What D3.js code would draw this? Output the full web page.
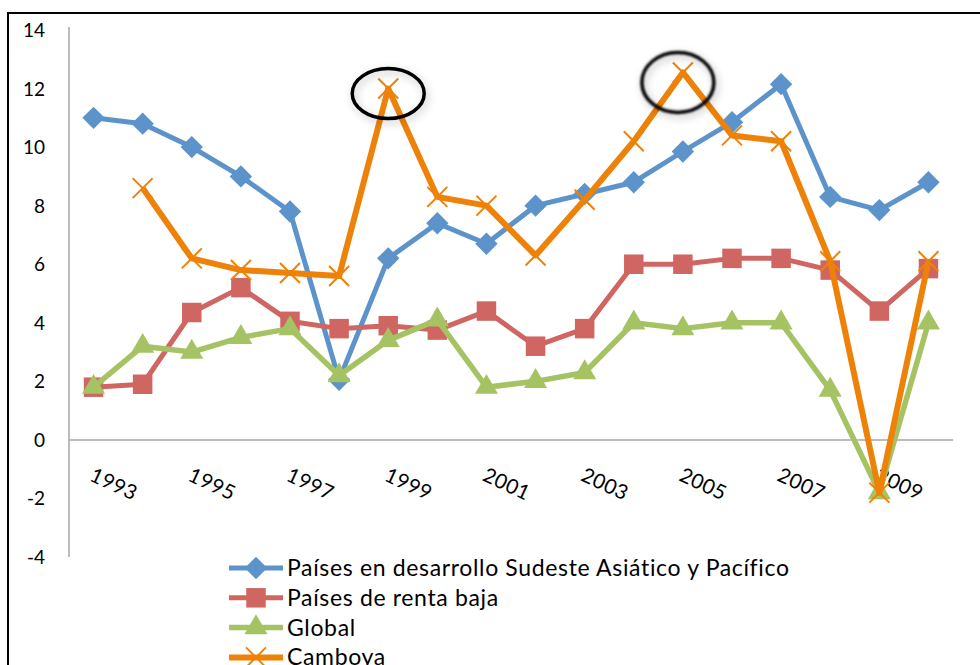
<!DOCTYPE html>
<html>
<head>
<meta charset="utf-8">
<script src="https://cdn.jsdelivr.net/npm/d3@7"></script>
<style>
  body { margin: 0; background: #fff; }
  svg { display: block; font-family: Lato, "Open Sans", sans-serif; }
</style>
</head>
<body>
<svg id="chart"></svg>
<script>
// data
const years = ["1993","1994","1995","1996","1997","1998","1999","2000","2001","2002","2003","2004","2005","2006","2007","2008","2009","2010"];
const tickLabels = ["1993","1995","1997","1999","2001","2003","2005","2007","2009"];
const yTicks = [-4, -2, 0, 2, 4, 6, 8, 10, 12, 14];

const seriesNames = [
  "Países en desarrollo Sudeste Asiático y Pacífico",
  "Países de renta baja",
  "Global",
  "Camboya"
];
const asiaPacifico = [11.0, 10.8, 10.0, 9.0, 7.8, 2.05, 6.2, 7.4, 6.7, 8.0, 8.4, 8.8, 9.85, 10.85, 12.15, 8.3, 7.85, 8.8];
const rentaBaja = [1.8, 1.9, 4.35, 5.2, 4.05, 3.8, 3.9, 3.75, 4.4, 3.2, 3.8, 6.0, 6.0, 6.2, 6.2, 5.8, 4.4, 5.85];
const global = [1.8, 3.2, 3.0, 3.5, 3.8, 2.2, 3.4, 4.1, 1.8, 2.0, 2.3, 4.0, 3.8, 4.0, 4.0, 1.7, -1.8, 4.0];
const camboya = [null, 8.6, 6.2, 5.8, 5.7, 5.6, 12.0, 8.3, 8.0, 6.3, 8.2, 10.2, 12.55, 10.4, 10.2, 6.1, -1.8, 6.1];

// the two circled peaks
const highlights = ["1999", "2005"];

const colors = ["#5B93CA", "#CF6661", "#A6C364", "#EE8208"];
const markers = ["diamond", "square", "triangle", "x"];
const allValues = [asiaPacifico, rentaBaja, global, camboya];

const W = 980, H = 665;
const svg = d3.select("#chart").attr("width", W).attr("height", H);

// outer frame (runs off the right and bottom)
svg.append("rect")
  .attr("x", 8).attr("y", 13)
  .attr("width", 1000).attr("height", 700)
  .attr("fill", "none").attr("stroke", "#000").attr("stroke-width", 2);

const defs = svg.append("defs");
const sh = defs.append("filter").attr("id", "shadow")
  .attr("x", "-40%").attr("y", "-40%").attr("width", "180%").attr("height", "180%");
sh.append("feGaussianBlur").attr("in", "SourceAlpha").attr("stdDeviation", 4).attr("result", "b");
sh.append("feOffset").attr("in", "b").attr("dx", 2).attr("dy", 3).attr("result", "o");
sh.append("feComponentTransfer").attr("in", "o").attr("result", "s")
  .append("feFuncA").attr("type", "linear").attr("slope", 0.25);
const m = sh.append("feMerge");
m.append("feMergeNode").attr("in", "s");
m.append("feMergeNode").attr("in", "SourceGraphic");

const blur = defs.append("filter").attr("id", "soft")
  .attr("x", "-40%").attr("y", "-40%").attr("width", "180%").attr("height", "180%");
blur.append("feGaussianBlur").attr("in", "SourceGraphic").attr("stdDeviation", 1.2).attr("result", "g");
blur.append("feGaussianBlur").attr("in", "SourceAlpha").attr("stdDeviation", 4).attr("result", "b");
blur.append("feOffset").attr("in", "b").attr("dx", 2).attr("dy", 3).attr("result", "o");
blur.append("feComponentTransfer").attr("in", "o").attr("result", "s")
  .append("feFuncA").attr("type", "linear").attr("slope", 0.3);
const m2 = blur.append("feMerge");
m2.append("feMergeNode").attr("in", "s");
m2.append("feMergeNode").attr("in", "g");

const x = d3.scaleBand().domain(years).range([69, 953]);
const y = d3.scaleLinear().domain([-4, 14]).range([557, 30]);
const cx = d => x(d) + x.bandwidth() / 2;

// axes
svg.append("line")
  .attr("x1", 69).attr("x2", 69)
  .attr("y1", y(14) - 3).attr("y2", y(-4))
  .attr("stroke", "#A6A6A6").attr("stroke-width", 1.5);
svg.append("line")
  .attr("x1", 69).attr("x2", 953)
  .attr("y1", y(0)).attr("y2", y(0))
  .attr("stroke", "#A6A6A6").attr("stroke-width", 1.5);

svg.selectAll(".ytick")
  .data(yTicks)
  .enter().append("text")
  .attr("class", "ytick")
  .attr("x", 45)
  .attr("y", d => y(d) + 7)
  .attr("text-anchor", "end")
  .style("font-size", "19px")
  .style("fill", "#000")
  .text(d => d);

svg.selectAll(".xtick")
  .data(tickLabels)
  .enter().append("text")
  .attr("class", "xtick")
  .attr("transform", d => `translate(${cx(d) - 5},480) rotate(25)`)
  .style("font-size", "20.5px")
  .style("letter-spacing", "0.4px")
  .style("fill", "#000")
  .text(d => d);

// marker shapes
const diamond = {
  draw(ctx, size) {
    const r = Math.sqrt(size) / 2;
    ctx.moveTo(0, -r); ctx.lineTo(r, 0); ctx.lineTo(0, r); ctx.lineTo(-r, 0); ctx.closePath();
  }
};
const cross = {
  draw(ctx, size) {
    const r = Math.sqrt(size) / 2;
    ctx.moveTo(-r, -r); ctx.lineTo(r, r);
    ctx.moveTo(-r, r); ctx.lineTo(r, -r);
  }
};
const symbolFor = {
  diamond: d3.symbol(diamond, 500),
  square: d3.symbol(d3.symbolSquare, 380),
  triangle: d3.symbol(d3.symbolTriangle, 230),
  x: d3.symbol(cross, 400)
};

function drawMarker(sel, i) {
  const p = sel.append("path").attr("d", symbolFor[markers[i]]());
  if (markers[i] === "x") {
    p.attr("fill", "none").attr("stroke", colors[i]).attr("stroke-width", 2);
  } else {
    p.attr("fill", colors[i]);
  }
}

const lineWidths = [5, 5, 5.5, 6];

allValues.forEach((vals, i) => {
  const pts = years.map((yr, j) => ({ yr, v: vals[j] })).filter(d => d.v !== null);
  const g = svg.append("g");
  g.append("path")
    .datum(pts)
    .attr("fill", "none")
    .attr("stroke", colors[i])
    .attr("stroke-width", lineWidths[i])
    .attr("stroke-linejoin", "round")
    .attr("d", d3.line().x(d => cx(d.yr)).y(d => y(d.v)));
  pts.forEach(d => {
    const mg = g.append("g").attr("transform", `translate(${cx(d.yr)},${y(d.v)})`);
    drawMarker(mg, i);
  });
});

// circled annotations on Camboya peaks
const ell = [
  { yr: highlights[0], dx: 0, dy: 5, rx: 36, ry: 25, f: "url(#shadow)" },
  { yr: highlights[1], dx: -5, dy: 10, rx: 36, ry: 30, f: "url(#soft)" }
];
ell.forEach(e => {
  const j = years.indexOf(e.yr);
  svg.append("ellipse")
    .attr("cx", cx(e.yr) + e.dx)
    .attr("cy", y(camboya[j]) + e.dy)
    .attr("rx", e.rx).attr("ry", e.ry)
    .attr("fill", "none")
    .attr("stroke", "#000")
    .attr("stroke-width", 3.5)
    .attr("filter", e.f);
});

// legend
const legend = svg.append("g");
seriesNames.forEach((name, i) => {
  const ly = 568 + i * 29.8;
  const row = legend.append("g").attr("transform", `translate(0,${ly})`);
  row.append("line")
    .attr("x1", 229).attr("x2", 283)
    .attr("stroke", colors[i]).attr("stroke-width", lineWidths[i]);
  const mg = row.append("g").attr("transform", "translate(256,0)");
  drawMarker(mg, i);
  row.append("text")
    .attr("x", 287)
    .attr("y", 8)
    .style("font-size", "23px")
    .style("letter-spacing", "0.65px")
    .style("fill", "#000")
    .text(name);
});
</script>
</body>
</html>
